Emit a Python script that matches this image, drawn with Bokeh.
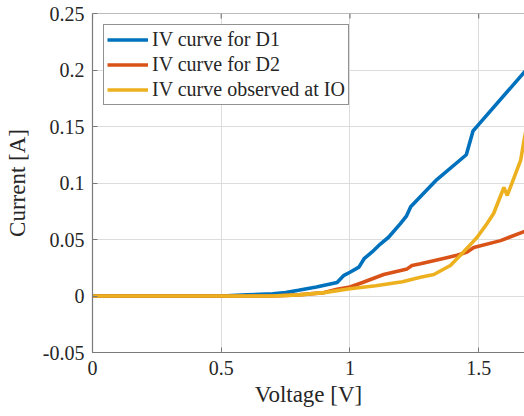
from bokeh.plotting import figure
from bokeh.models import Range1d, FixedTicker, Legend, LegendItem, Span
from bokeh.embed import file_html
from bokeh.resources import INLINE

# Data
v_d1 = [0, 0.5, 0.6, 0.7, 0.75, 0.8, 0.87, 0.95, 0.975, 1.0, 1.035, 1.055, 1.086, 1.118,
        1.15, 1.196, 1.22, 1.236, 1.333, 1.452, 1.478, 1.497, 1.7]
i_d1 = [0, 0, 0.001, 0.002, 0.003, 0.005, 0.008, 0.012, 0.018, 0.021, 0.0255, 0.033, 0.039,
        0.046, 0.052, 0.064, 0.071, 0.079, 0.102, 0.125, 0.146, 0.151, 0.204]

v_d2 = [0, 0.6, 0.7, 0.8, 0.9, 0.95, 1.0, 1.049, 1.131, 1.222, 1.241, 1.274, 1.359, 1.416,
        1.455, 1.481, 1.585, 1.7]
i_d2 = [0, 0, 0, 0.001, 0.003, 0.006, 0.008, 0.012, 0.019, 0.024, 0.027, 0.0285, 0.033,
        0.036, 0.0388, 0.043, 0.049, 0.059]

v_io = [0, 0.6, 0.7, 0.8, 0.9, 1.0, 1.1, 1.204, 1.274, 1.326, 1.39, 1.429, 1.474, 1.494,
        1.532, 1.558, 1.598, 1.611, 1.663, 1.678, 1.7]
i_io = [0, 0, 0, 0.001, 0.003, 0.0064, 0.009, 0.0126, 0.0166, 0.019, 0.027, 0.036, 0.047,
        0.052, 0.064, 0.073, 0.096, 0.089, 0.12, 0.14, 0.165]

series_names = ["IV curve for D1", "IV curve for D2", "IV curve observed at IO"]
series_colors = ["#0072BD", "#D95319", "#EDB120"]

x_ticks = [0, 0.5, 1, 1.5]
x_tick_labels = ["0", "0.5", "1", "1.5"]
y_ticks = [-0.05, 0, 0.05, 0.1, 0.15, 0.2, 0.25]
y_tick_labels = ["-0.05", "0", "0.05", "0.1", "0.15", "0.2", "0.25"]

FONT = "'Liberation Serif', 'Times New Roman', serif"
TXT = "#262626"
AX = "#7a7a7a"
Y_TOP = 0.25

p = figure(width=524, height=416, output_backend="svg", toolbar_location=None,
           x_range=Range1d(0, 1.678), y_range=Range1d(-0.05, Y_TOP),
           min_border_left=92, min_border_right=0, min_border_top=13, min_border_bottom=64,
           x_axis_label="Voltage [V]", y_axis_label="Current [A]")
p.outline_line_color = None
p.background_fill_color = "white"
p.border_fill_color = "white"

# top box edge with inward ticks (MATLAB box style)
p.add_layout(Span(location=Y_TOP, dimension="width", line_color=AX, line_width=1.2))
p.segment(x0=x_ticks, x1=x_ticks, y0=[Y_TOP] * len(x_ticks), y1=[Y_TOP - 0.0045] * len(x_ticks),
          line_color=AX, line_width=1.2)

renderers = []
for xs, ys, c in zip([v_d1, v_d2, v_io], [i_d1, i_d2, i_io], series_colors):
    r = p.line(xs, ys, line_color=c, line_width=3.6)
    renderers.append(r)

for ax, ticks, labels in [(p.xaxis[0], x_ticks, x_tick_labels), (p.yaxis[0], y_ticks, y_tick_labels)]:
    ax.ticker = FixedTicker(ticks=ticks)
    ax.major_label_overrides = {t: l for t, l in zip(ticks, labels)}
    ax.major_label_text_font = FONT
    ax.major_label_text_font_size = "20px"
    ax.major_label_text_color = TXT
    ax.axis_label_text_font = FONT
    ax.axis_label_text_font_size = "23px"
    ax.axis_label_text_font_style = "normal"
    ax.axis_label_text_color = TXT
    ax.axis_line_color = AX
    ax.axis_line_width = 1.2
    ax.major_tick_line_color = AX
    ax.major_tick_in = 5
    ax.major_tick_out = 0
    ax.minor_tick_line_color = None
    ax.major_label_standoff = 8

p.xaxis[0].axis_label_standoff = 4
p.yaxis[0].axis_label_standoff = 10

p.xgrid.ticker = FixedTicker(ticks=x_ticks)
p.ygrid.ticker = FixedTicker(ticks=y_ticks)
p.grid.grid_line_color = "#dcdcdc"
p.grid.grid_line_width = 1

legend = Legend(items=[LegendItem(label=n, renderers=[r]) for n, r in zip(series_names, renderers)],
                location="top_left")
legend.margin = 11
legend.padding = 3
legend.spacing = 2
legend.glyph_width = 41
legend.glyph_height = 21
legend.label_height = 21
legend.label_standoff = 4
legend.label_text_font = FONT
legend.label_text_font_size = "20px"
legend.label_text_color = TXT
legend.border_line_color = "#262626"
legend.border_line_width = 1
legend.background_fill_color = "white"
legend.background_fill_alpha = 1
p.add_layout(legend, "center")

open("out.html", "w").write(file_html(p, INLINE))
